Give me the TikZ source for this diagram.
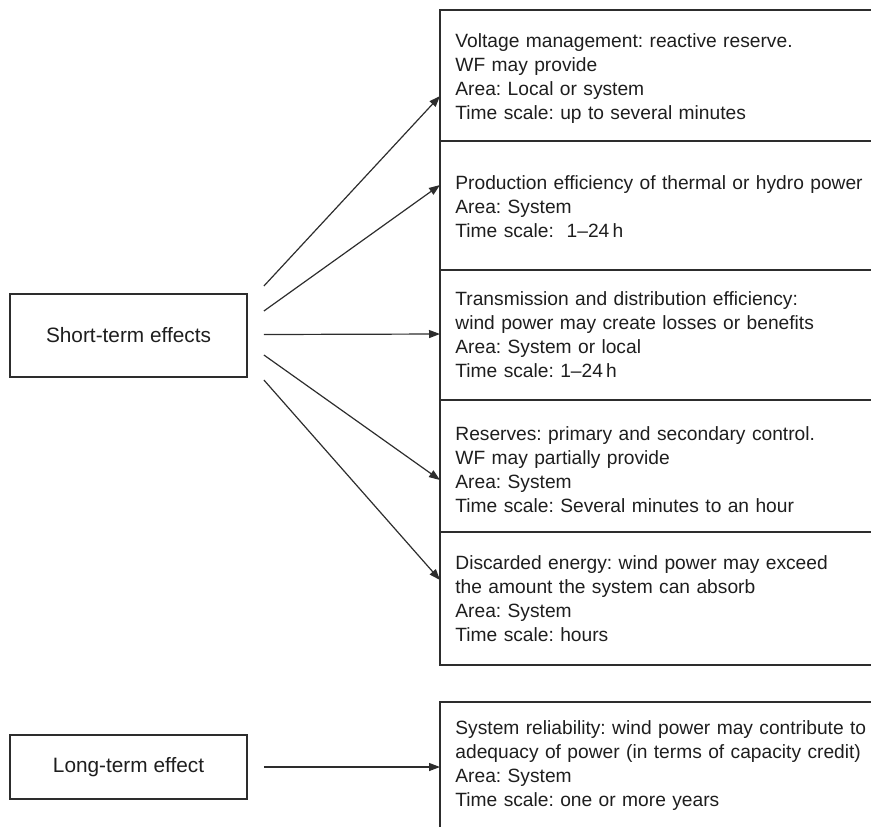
\documentclass[tikz,border=0pt]{standalone}
\usepackage{fontspec}
\setmainfont{Liberation Sans}
\usetikzlibrary{positioning,arrows.meta}
\definecolor{myline}{RGB}{45,45,45}
\definecolor{mytext}{RGB}{30,30,30}
\frenchspacing

\begin{document}
\begin{tikzpicture}[
  x=0.5pt, y=-0.5pt,
  font=\fontsize{9.6}{12}\selectfont,
  text=mytext,
  effectbox/.style={
    draw=myline,
    line width=0.9pt,
    minimum width=118.5pt,
    minimum height=#1,
    inner sep=0pt,
    font=\fontsize{10.4}{12.5}\selectfont
    },
  impactbox/.style={
    draw=myline,
    line width=0.9pt,
    anchor=north west,
    minimum width=240pt,
    minimum height=#1,
    inner sep=0pt,
    outer sep=0pt
    },
  impacttext/.style={
    anchor=north west,
    inner sep=0pt,
    text width=220pt,
    align=left
    },
  myarrow/.style={
    draw=myline,
    line width=0.6pt,
    -{Triangle[length=5.5pt,width=4pt]}
  }
]
\useasboundingbox (0,0) rectangle (871,826);
\clip (0,0) rectangle (871,826);

% effect boxes on the left
\node[effectbox=41.5pt] (short) at (128.5,335.5) {Short-term effects};
\node[effectbox=32pt] (long) at (128.5,767) {Long-term effect};

% column of impacts
\node[impactbox=65.5pt] (voltage) at (440,10) {};
\node[impactbox=64.5pt, below=0pt of voltage.south west, anchor=north west] (prod) {};
\node[impactbox=65pt, below=0pt of prod.south west, anchor=north west] (trans) {};
\node[impactbox=66pt, below=0pt of trans.south west, anchor=north west] (reserve) {};
\node[impactbox=66.5pt, below=0pt of reserve.south west, anchor=north west] (discard) {};
\node[impactbox=70pt] (reliab) at (440,702) {};

\node[impacttext, below right=11.5pt and 7.5pt of voltage.north west] (voltagetxt)
  {Voltage management: reactive reserve.\\
   WF may provide\\
   Area: Local or system\\
   Time scale: up to several minutes};
\node[impacttext, below right=17pt and 7.5pt of prod.north west] (prodtxt)
  {Production efficiency of thermal or hydro power\\
   Area: System\\
   Time scale:\ \ 1--24\,h};
\node[impacttext, below right=10.5pt and 7.5pt of trans.north west] (transtxt)
  {Transmission and distribution efficiency:\\
   wind power may create losses or benefits\\
   Area: System or local\\
   Time scale: 1--24\,h};
\node[impacttext, below right=13pt and 7.5pt of reserve.north west] (reservetxt)
  {Reserves: primary and secondary control.\\
   WF may partially provide\\
   Area: System\\
   Time scale: Several minutes to an hour};
\node[impacttext, below right=11.5pt and 7.5pt of discard.north west] (discardtxt)
  {Discarded energy: wind power may exceed\\
   the amount the system can absorb\\
   Area: System\\
   Time scale: hours};
\node[impacttext, below right=9pt and 7.5pt of reliab.north west] (reliabtxt)
  {System reliability: wind power may contribute to\\
   adequacy of power (in terms of capacity credit)\\
   Area: System\\
   Time scale: one or more years};

% arrows
\draw[myarrow] ([xshift=8pt,yshift=24.75pt]short.east) -- ([yshift=-10.25pt]voltage.west);
\draw[myarrow] ([xshift=8pt,yshift=12.25pt]short.east) -- ([yshift=10.25pt]prod.west);
\draw[myarrow] ([xshift=8pt,yshift=0.5pt]short.east) -- ([yshift=0.5pt]trans.west);
\draw[myarrow] ([xshift=8pt,yshift=-9.75pt]short.east) -- ([yshift=-7pt]reserve.west);
\draw[myarrow] ([xshift=8pt,yshift=-22.25pt]short.east) -- ([yshift=9.25pt]discard.west);
\draw[myarrow] ([xshift=8pt]long.east) -- ([yshift=2.5pt]reliab.west);

\end{tikzpicture}
\end{document}
